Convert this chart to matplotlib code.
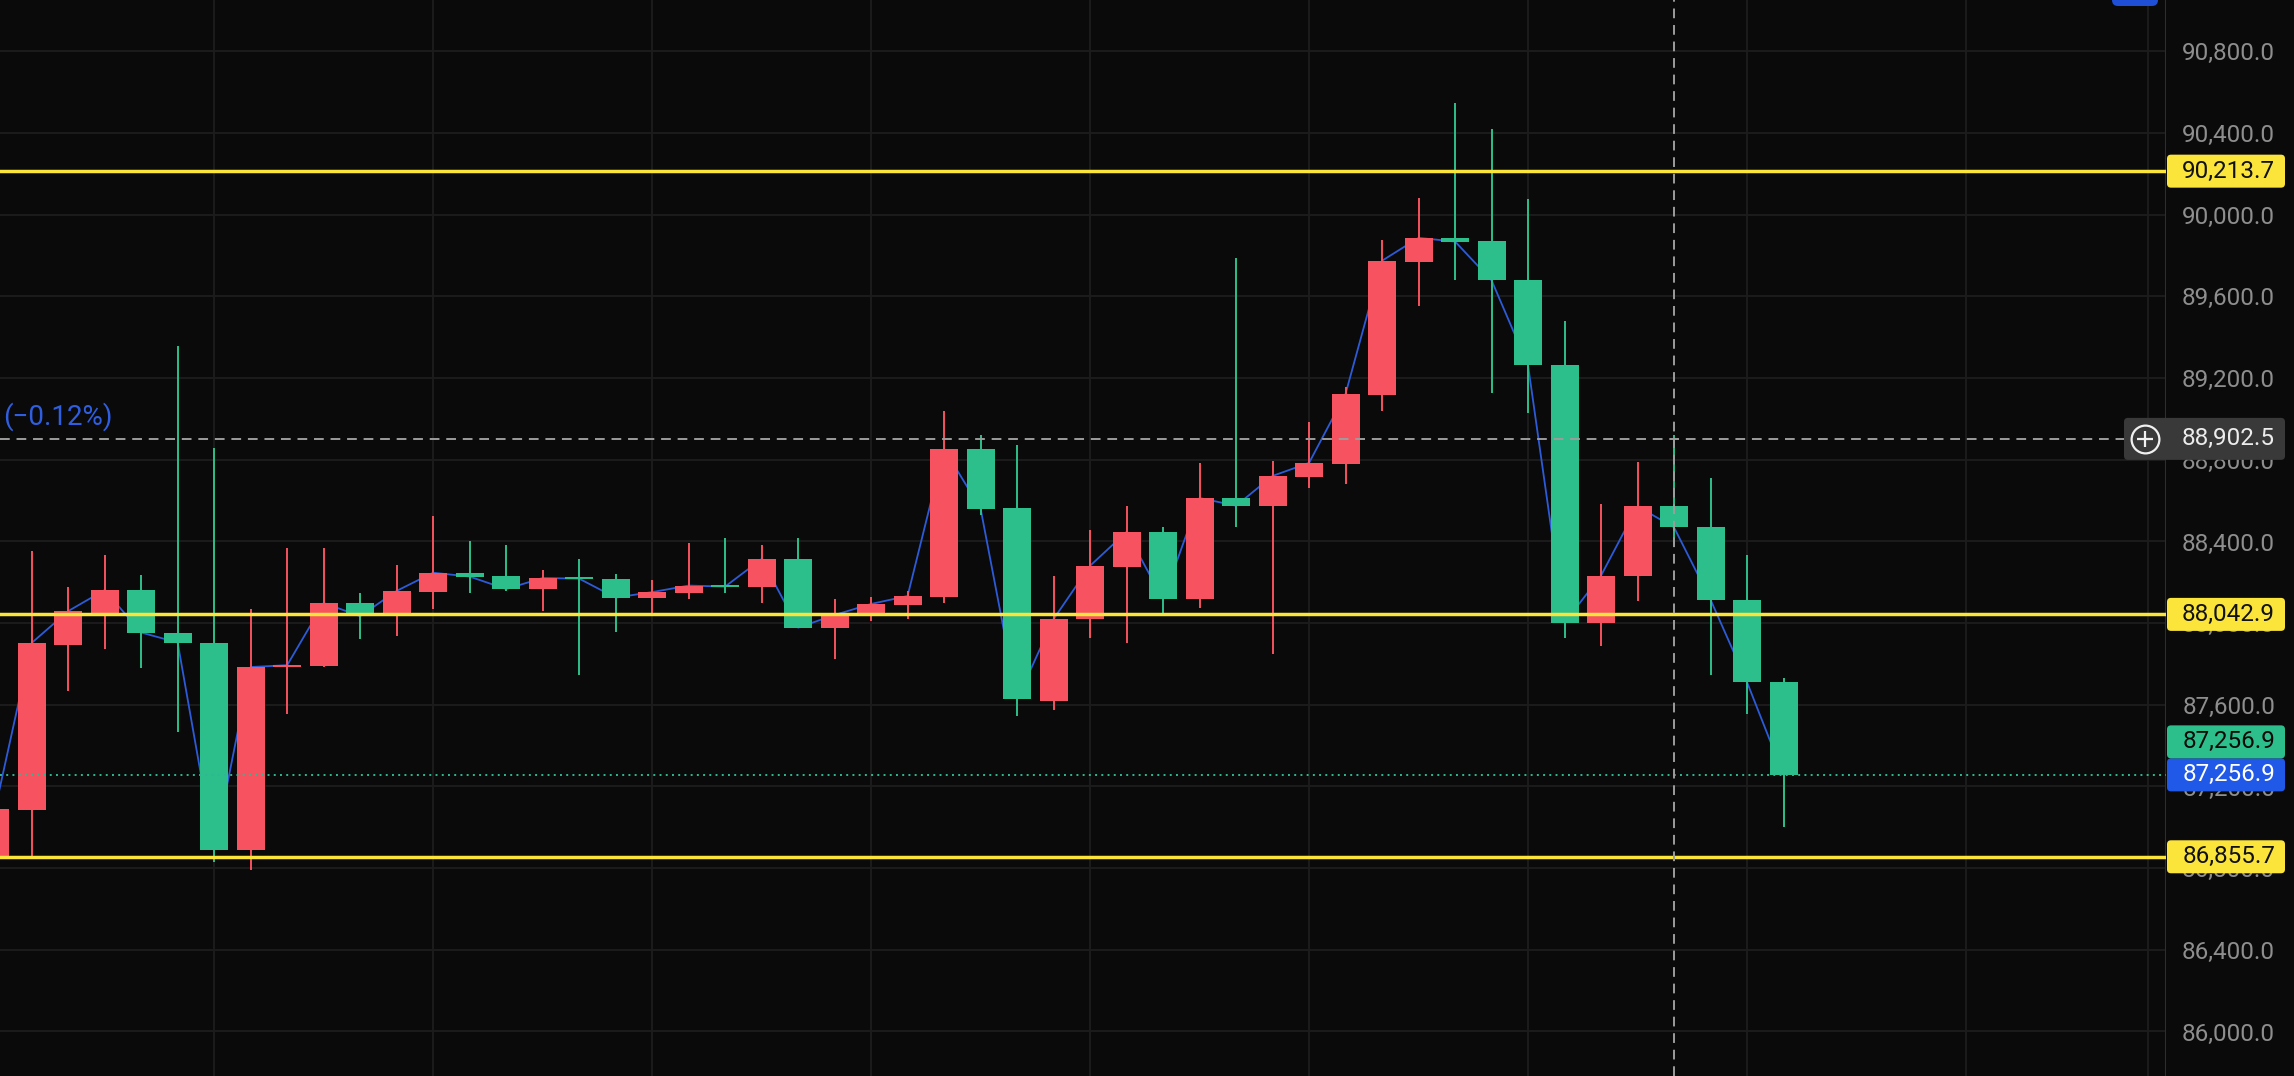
import numpy as np
import matplotlib
matplotlib.use("Agg")
import matplotlib.pyplot as plt
from matplotlib.patches import FancyBboxPatch
from matplotlib.ticker import FuncFormatter
from matplotlib.transforms import blended_transform_factory

# ---------------- data ----------------
candle_idx = list(range(-1, 49))
opens = [86850, 87086, 87894, 88052, 88162, 87954, 87905, 86890, 87785, 87792,
         88099, 88037, 88154, 88246, 88231, 88167, 88228, 88216, 88123, 88149,
         88189, 88179, 88314, 87978, 88037, 88091, 88130, 88853, 88564, 87620,
         88019, 88277, 88447, 88116, 88613, 88575, 88717, 88781, 89119, 89771,
         89885, 89873, 89681, 89263, 88003, 88233, 88572, 88469, 88115, 87711]
highs = [87150, 88351, 88177, 88334, 88236, 89357, 88858, 88070, 88369, 88369,
         88146, 88285, 88525, 88401, 88383, 88260, 88314, 88241, 88211, 88393,
         88417, 88383, 88416, 88118, 88127, 88159, 89039, 88922, 88873, 88231,
         88456, 88574, 88470, 88785, 89789, 88795, 88985, 89157, 89877, 90081,
         90546, 90418, 90078, 89478, 88584, 88791, 88920, 88710, 88334, 87733]
lows = [86830, 86856, 87666, 87874, 87782, 87467, 86829, 86793, 87557, 87785,
        87921, 87939, 88068, 88149, 88159, 88060, 87748, 87958, 88050, 88116,
        88149, 88100, 87975, 87823, 88012, 88019, 88100, 88531, 87545, 87575,
        87929, 87901, 88042, 88075, 88473, 87851, 88661, 88682, 89041, 89555,
        89679, 89129, 89027, 87926, 87886, 88107, 88390, 87744, 87555, 87002]
closes = [87090, 87903, 88059, 88162, 87954, 87905, 86890, 87785, 87794, 88099,
          88034, 88158, 88247, 88228, 88167, 88221, 88218, 88125, 88152, 88184,
          88179, 88314, 87978, 88040, 88094, 88133, 88853, 88561, 87627, 88020,
          88281, 88447, 88116, 88613, 88575, 88721, 88785, 89123, 89775, 89887,
          89869, 89679, 89263, 88003, 88233, 88572, 88469, 88115, 87711, 87256.9]

level_prices = [90213.7, 88042.9, 86855.7]
ytick_prices = [86000, 86400, 86800, 87200, 87600, 88000, 88400, 88800,
                89200, 89600, 90000, 90400, 90800]
vgrid_idx = [5, 11, 17, 23, 29, 35, 41, 47, 53, 58]
crosshair_price = 88902.5
crosshair_idx = 45
last_price = 87256.9
change_text = "(\u22120.12%)"

# ---------------- styling ----------------
BG = "#0a0a0a"
GRID = "#1d1d1d"
UP = "#f7525f"      # red = rising candle
DOWN = "#2dbf8b"    # green = falling candle
LINE_BLUE = "#2d5bd8"
YELLOW = "#fbe53b"
LABEL_GREY = "#8e8e8e"
BOX_BLUE = "#2058e8"

plt.rcParams["font.family"] = ["Roboto", "DejaVu Sans"]

W, H, DPI = 2294, 1076, 100
PLOT_W = 2166
ymin, ymax = 85782, 91052
UPP = (ymax - ymin) / H          # price units per pixel
FS = 17.5

fig = plt.figure(figsize=(W / DPI, H / DPI), dpi=DPI, facecolor=BG)

# main chart area
ax = fig.add_axes([0, 0, PLOT_W / W, 1])
ax.set_facecolor(BG)
ax.set_xlim(-0.868, 58.48)
ax.set_ylim(ymin, ymax)
ax.set_yticks(ytick_prices)
ax.set_xticks(vgrid_idx)
ax.tick_params(length=0, labelleft=False, labelbottom=False)
ax.grid(True, color=GRID, lw=1.3)
ax.set_axisbelow(True)
for s in ["top", "left", "bottom"]:
    ax.spines[s].set_visible(False)
ax.spines["right"].set_color("#2e2e2e")
ax.spines["right"].set_linewidth(1.5)

o = np.array(opens, float)
c = np.array(closes, float)
hi = np.array(highs, float)
lo = np.array(lows, float)
x = np.array(candle_idx)
cols = [UP if cc >= oo else DOWN for oo, cc in zip(o, c)]

ax.plot(x, c, color=LINE_BLUE, lw=1.3, zorder=2.5)
ax.vlines(x, lo, hi, colors=cols, lw=1.4, zorder=3)
body_h = np.maximum(np.abs(c - o), 1.2 * UPP)
ax.bar(x, body_h, bottom=np.minimum(o, c), width=0.767, color=cols,
       linewidth=0, zorder=4)

for lv in level_prices:
    ax.axhline(lv, color=YELLOW, lw=2.5, zorder=6)

ax.axhline(last_price, color="#2fb892", lw=1.4, ls=(0, (1, 2.2)), zorder=6)
ax.axhline(crosshair_price, color="#9d9d9d", lw=1.4, ls=(0, (5, 3.5)), zorder=7)
ax.axvline(crosshair_idx, color="#9d9d9d", lw=1.4, ls=(0, (5, 3.5)), zorder=7)

trans = blended_transform_factory(ax.transAxes, ax.transData)
ax.text(0.0014, 89010, change_text, transform=trans, ha="left", va="center",
        fontsize=20, color="#2f5fe0", zorder=8)

# price scale area
sax = fig.add_axes([PLOT_W / W, 0, (W - PLOT_W) / W, 1])
sax.set_facecolor(BG)
sax.set_xlim(0, W - PLOT_W)
sax.set_ylim(ymin, ymax)
sax.set_xticks([])
sax.set_yticks(ytick_prices)
sax.yaxis.set_major_formatter(FuncFormatter(lambda v, p: f"{v:,.1f}"))
sax.tick_params(axis="y", length=0, pad=-78.5, labelsize=FS, labelcolor=LABEL_GREY)
for s in sax.spines.values():
    s.set_visible(False)

BOX_H = 33 * UPP


def price_box(price, fc, tc, x0=1, x1=119, h=BOX_H, yc=None):
    yc = price if yc is None else yc
    p = FancyBboxPatch((x0, yc - h / 2), x1 - x0, h,
                       boxstyle="round,pad=0,rounding_size=4",
                       mutation_aspect=UPP, fc=fc, ec="none",
                       zorder=5, clip_on=False)
    sax.add_patch(p)
    sax.text(109, yc, f"{price:,.1f}", ha="right", va="center",
             fontsize=FS, color=tc, zorder=6, clip_on=False)


for lv in level_prices:
    price_box(lv, YELLOW, "#111111")
price_box(last_price, BOX_BLUE, "#ffffff")
price_box(last_price, "#2dbf8b", "#0a0a0a", yc=last_price + BOX_H)
# crosshair label
price_box(crosshair_price, "#393939", "#ececec", x0=-42, h=42 * UPP)
sax.plot([-21], [crosshair_price], marker="o", ms=20, mfc="none", mec="#f0f0f0",
         mew=1.6, zorder=7, clip_on=False)
sax.plot([-21], [crosshair_price], marker="+", ms=11, mec="#f0f0f0",
         mew=1.6, zorder=7, clip_on=False)

# decorative blue tab at the top right
ov = fig.add_axes([0, 0, 1, 1])
ov.set_xlim(0, W)
ov.set_ylim(H, 0)
ov.axis("off")
ov.patch.set_visible(False)
ov.add_patch(FancyBboxPatch((2112, -14), 46, 20,
                            boxstyle="round,pad=0,rounding_size=6",
                            fc="#1f4fd6", ec="none"))

fig.savefig("out.png", dpi=DPI, facecolor=BG)
